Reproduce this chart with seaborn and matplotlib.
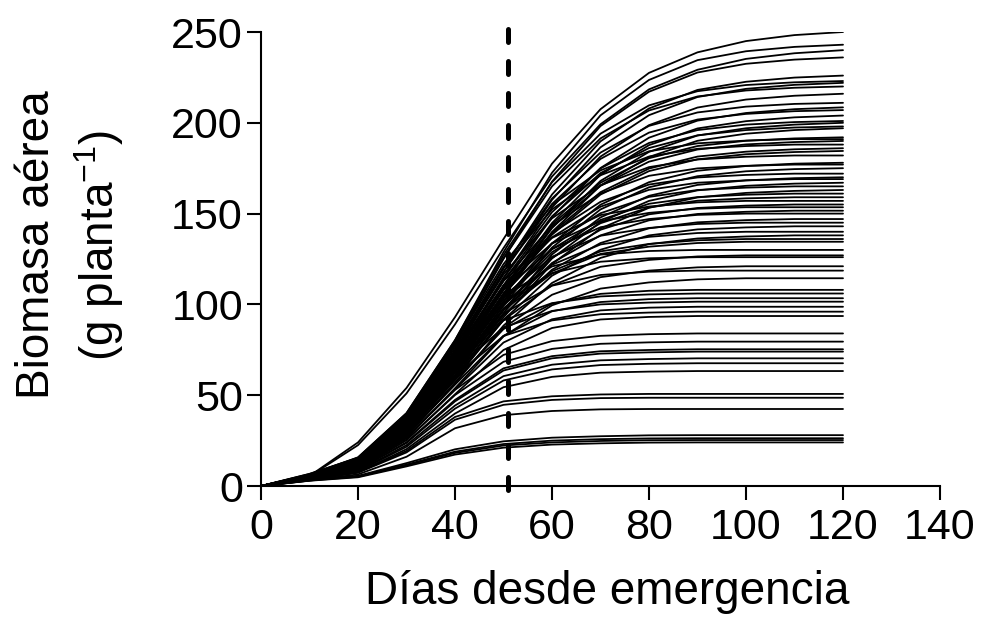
import matplotlib
matplotlib.use("Agg")
import matplotlib.pyplot as plt
import seaborn as sns
import pandas as pd

# ---------------- data ----------------
days = [0, 10, 20, 30, 40, 50, 60, 70, 80, 90, 100, 110, 120]
emergence_line_day = 51

biomass_d0 = [0, 0, 0, 0, 0, 0, 0, 0, 0, 0,
              0, 0, 0, 0, 0, 0, 0, 0, 0, 0,
              0, 0, 0, 0, 0, 0, 0, 0, 0, 0,
              0, 0, 0, 0, 0, 0, 0, 0, 0, 0,
              0, 0, 0, 0, 0, 0, 0, 0, 0, 0,
              0, 0, 0, 0, 0, 0, 0, 0, 0, 0,
              0, 0, 0, 0, 0, 0, 0, 0, 0, 0,
              0, 0, 0, 0]
biomass_d10 = [5.5, 6.1, 5.3, 5.9, 5.7, 6.7, 5.6, 6.6, 5.4, 6.3,
               5.2, 6.2, 5.1, 6.0, 5.0, 5.9, 4.9, 5.8, 5.7, 5.7,
               5.6, 5.6, 5.5, 5.5, 5.3, 5.3, 5.3, 5.2, 5.1, 5.1,
               5.0, 5.0, 4.9, 4.8, 4.8, 5.5, 4.7, 5.4, 4.5, 5.3,
               4.4, 5.1, 4.3, 4.9, 4.1, 4.8, 4.7, 5.2, 4.4, 5.0,
               4.2, 4.7, 4.0, 4.3, 5.3, 4.1, 5.1, 3.9, 4.8, 3.7,
               4.2, 4.0, 3.8, 3.7, 3.5, 3.4, 3.2, 3.5, 3.4, 3.0,
               3.4, 3.2, 3.0, 2.9]
biomass_d20 = [24.0, 15.8, 22.5, 15.3, 14.7, 15.6, 14.4, 15.4, 14.0, 14.8,
               13.6, 14.5, 13.3, 14.1, 13.0, 13.9, 12.8, 13.4, 15.3, 13.3,
               15.0, 13.0, 12.9, 14.6, 12.5, 14.2, 12.3, 13.8, 11.9, 13.5,
               11.7, 13.2, 11.4, 12.9, 12.7, 14.1, 12.4, 13.8, 12.1, 13.5,
               11.8, 13.1, 11.4, 12.6, 11.0, 12.2, 12.1, 13.0, 11.4, 12.6,
               10.9, 11.9, 10.3, 10.8, 12.7, 10.3, 12.2, 9.9, 11.5, 9.4,
               10.1, 9.5, 9.0, 8.9, 8.4, 8.1, 7.6, 7.6, 7.3, 6.4,
               5.6, 5.3, 5.1, 4.8]
biomass_d30 = [54.0, 40.1, 51.0, 38.9, 37.3, 40.1, 36.6, 39.6, 35.6, 38.0,
               34.4, 37.3, 33.7, 36.2, 33.0, 35.6, 32.5, 34.6, 38.2, 34.2,
               37.6, 33.5, 33.2, 36.4, 32.0, 35.4, 31.5, 34.4, 30.6, 33.8,
               30.1, 33.0, 29.3, 32.2, 31.8, 36.1, 31.0, 35.3, 30.3, 34.5,
               29.4, 33.4, 28.6, 32.2, 27.6, 31.3, 30.9, 35.1, 29.2, 34.0,
               27.8, 32.0, 26.3, 29.2, 33.9, 27.9, 32.5, 26.6, 30.7, 25.3,
               26.9, 25.4, 24.1, 23.7, 22.5, 21.6, 20.3, 19.3, 18.5, 16.1,
               12.6, 11.8, 11.4, 10.8]
biomass_d40 = [93.0, 80.2, 89.0, 77.9, 74.6, 80.3, 73.3, 79.2, 71.3, 76.0,
               68.8, 74.5, 67.3, 72.4, 66.0, 71.3, 65.0, 69.1, 78.3, 68.4,
               77.1, 67.0, 66.4, 74.6, 64.1, 72.6, 63.0, 70.5, 61.2, 69.3,
               60.1, 67.7, 58.7, 66.0, 65.2, 73.8, 63.6, 72.1, 62.2, 70.5,
               60.3, 68.2, 58.6, 65.8, 56.6, 63.9, 63.2, 70.2, 59.7, 68.0,
               56.9, 64.0, 53.8, 58.3, 66.8, 55.8, 63.9, 53.3, 60.5, 50.5,
               52.9, 50.1, 47.4, 46.6, 44.3, 42.6, 39.9, 38.0, 36.5, 31.8,
               20.2, 18.9, 18.2, 17.3]
biomass_d50 = [136.0, 128.8, 131.0, 125.1, 119.8, 127.1, 117.7, 125.4, 114.5, 120.3,
               110.5, 118.0, 108.1, 114.6, 106.0, 112.9, 104.4, 109.4, 122.2, 108.3,
               120.3, 106.0, 105.2, 116.5, 101.5, 113.3, 99.8, 110.1, 96.9, 108.2,
               95.2, 105.6, 92.9, 103.0, 101.8, 113.0, 99.2, 110.5, 97.0, 108.0,
               94.1, 104.4, 91.5, 100.8, 88.3, 97.9, 96.8, 104.0, 91.4, 100.8,
               87.1, 94.9, 82.4, 86.4, 91.2, 82.7, 87.3, 79.0, 82.6, 74.9,
               72.2, 68.4, 64.8, 63.6, 60.5, 58.1, 54.4, 46.6, 44.7, 39.0,
               24.6, 23.1, 22.3, 21.1]
biomass_d60 = [177.5, 172.5, 170.4, 167.6, 160.5, 167.3, 157.6, 165.0, 153.4, 158.3,
               148.0, 155.3, 144.8, 150.8, 142.0, 148.5, 139.9, 144.0, 154.7, 142.5,
               152.3, 139.5, 138.4, 147.4, 133.5, 143.4, 131.3, 139.3, 127.5, 136.9,
               125.3, 133.7, 122.3, 130.4, 128.8, 136.6, 125.6, 133.5, 122.8, 130.5,
               119.1, 126.2, 115.8, 121.8, 111.8, 118.3, 117.0, 120.9, 110.5, 117.2,
               105.3, 110.3, 99.5, 100.4, 100.7, 96.2, 96.4, 91.8, 91.2, 87.0,
               79.8, 75.5, 71.5, 70.3, 66.8, 64.2, 60.1, 49.4, 47.4, 41.3,
               26.6, 25.0, 24.0, 22.8]
biomass_d70 = [207.5, 204.1, 199.2, 198.2, 189.8, 194.0, 186.5, 191.4, 181.4, 183.6,
               175.1, 180.1, 171.4, 174.9, 168.0, 172.3, 165.5, 167.0, 173.8, 165.3,
               171.1, 161.8, 160.5, 165.6, 154.9, 161.1, 152.3, 156.5, 147.9, 153.8,
               145.3, 150.2, 141.8, 146.5, 144.7, 149.2, 141.1, 145.8, 138.0, 142.5,
               133.8, 137.8, 130.1, 133.0, 125.6, 129.2, 127.8, 127.4, 120.7, 123.5,
               115.0, 116.2, 108.7, 105.8, 104.4, 101.3, 100.0, 96.7, 94.6, 91.7,
               82.7, 78.3, 74.2, 72.9, 69.2, 66.6, 62.4, 50.4, 48.4, 42.2,
               27.4, 25.8, 24.8, 23.5]
biomass_d80 = [227.5, 223.6, 218.4, 217.1, 207.9, 209.6, 204.2, 206.8, 198.7, 198.3,
               191.8, 194.6, 187.7, 188.9, 184.0, 186.1, 181.2, 180.5, 184.3, 178.6,
               181.4, 174.8, 173.4, 175.6, 167.3, 170.8, 164.5, 166.0, 159.8, 163.1,
               157.0, 159.2, 153.2, 155.4, 153.4, 153.9, 149.6, 150.4, 146.3, 147.0,
               141.9, 142.1, 138.0, 137.2, 133.2, 133.3, 131.8, 129.4, 124.5, 125.4,
               118.6, 118.0, 112.1, 107.5, 105.5, 102.9, 101.0, 98.2, 95.5, 93.1,
               83.6, 79.1, 74.9, 73.6, 69.9, 67.3, 63.0, 50.7, 48.6, 42.4,
               27.9, 26.2, 25.2, 23.9]
biomass_d90 = [238.8, 234.5, 229.2, 227.7, 218.1, 217.4, 214.2, 214.5, 208.4, 205.7,
               201.2, 201.8, 196.9, 196.0, 193.0, 193.1, 190.1, 187.2, 188.7, 185.3,
               185.7, 181.4, 179.9, 179.8, 173.6, 174.9, 170.6, 169.9, 165.8, 167.0,
               162.8, 163.0, 158.9, 159.1, 157.1, 156.2, 153.1, 152.7, 149.8, 149.3,
               145.2, 144.3, 141.3, 139.3, 136.3, 135.3, 133.8, 130.0, 126.4, 126.0,
               120.4, 118.6, 113.8, 108.0, 106.0, 103.4, 101.5, 98.7, 96.0, 93.6,
               84.0, 79.5, 75.3, 74.0, 70.3, 67.6, 63.3, 50.7, 48.6, 42.4,
               28.0, 26.3, 25.3, 24.0]
biomass_d100 = [245.0, 239.4, 235.2, 232.5, 222.6, 220.8, 218.7, 217.8, 212.8, 208.9,
                205.4, 204.9, 200.9, 199.0, 197.0, 196.0, 194.0, 190.1, 190.2, 188.1,
                187.2, 184.1, 182.7, 181.3, 176.2, 176.3, 173.3, 171.3, 168.3, 168.3,
                165.3, 164.3, 161.4, 160.4, 158.4, 157.0, 154.4, 153.5, 151.0, 150.0,
                146.4, 145.0, 142.4, 140.0, 137.4, 136.0, 134.5, 130.0, 127.0, 126.0,
                121.0, 118.6, 114.4, 108.0, 106.0, 103.4, 101.5, 98.7, 96.0, 93.6,
                84.0, 79.5, 75.3, 74.0, 70.3, 67.6, 63.3, 50.7, 48.6, 42.4,
                28.0, 26.3, 25.3, 24.0]
biomass_d110 = [248.3, 241.8, 238.3, 234.8, 224.9, 222.3, 220.9, 219.3, 214.9, 210.4,
                207.5, 206.4, 203.0, 200.4, 199.0, 197.4, 196.0, 191.4, 191.0, 189.4,
                188.0, 185.4, 183.9, 182.0, 177.5, 177.0, 174.5, 172.0, 169.5, 169.0,
                166.5, 165.0, 162.5, 161.0, 159.0, 157.0, 155.0, 153.5, 151.6, 150.0,
                147.0, 145.0, 143.0, 140.0, 138.0, 136.0, 134.5, 130.0, 127.0, 126.0,
                121.0, 118.6, 114.4, 108.0, 106.0, 103.4, 101.5, 98.7, 96.0, 93.6,
                84.0, 79.5, 75.3, 74.0, 70.3, 67.6, 63.3, 50.7, 48.6, 42.4,
                28.0, 26.3, 25.3, 24.0]
biomass_d120 = [250, 243, 240, 236, 226, 223, 222, 220, 216, 211,
                208.5, 207, 204, 201, 200, 198, 197, 192, 191, 190,
                188, 186, 184.5, 182, 178, 177, 175, 172, 170, 169,
                167, 165, 163, 161, 159, 157, 155, 153.5, 151.6, 150,
                147, 145, 143, 140, 138, 136, 134.5, 130, 127, 126,
                121, 118.6, 114.4, 108, 106, 103.4, 101.5, 98.7, 96, 93.6,
                84, 79.5, 75.3, 74, 70.3, 67.6, 63.3, 50.7, 48.6, 42.4,
                28, 26.3, 25.3, 24]

x_ticks = [0, 20, 40, 60, 80, 100, 120, 140]
y_ticks = [0, 50, 100, 150, 200, 250]
x_label = "Días desde emergencia"
y_label = "Biomasa aérea\n(g planta$^{-1}$)"

# ---------------- long-form table ----------------
per_day = [biomass_d0, biomass_d10, biomass_d20, biomass_d30, biomass_d40,
           biomass_d50, biomass_d60, biomass_d70, biomass_d80, biomass_d90,
           biomass_d100, biomass_d110, biomass_d120]
rows = []
for d, values in zip(days, per_day):
    for i, v in enumerate(values):
        rows.append({"day": d, "biomass": v, "curve": i})
df = pd.DataFrame(rows)

# ---------------- style ----------------
sns.set_theme(style="ticks")
plt.rcParams["font.family"] = ["Liberation Sans", "DejaVu Sans"]
plt.rcParams["mathtext.default"] = "regular"
plt.rcParams["axes.linewidth"] = 1.5

fig = plt.figure(figsize=(9.85, 6.2), dpi=100)
ax = fig.add_axes([261 / 985, (620 - 486) / 620, 679 / 985, 454 / 620])

sns.lineplot(data=df, x="day", y="biomass", units="curve", estimator=None,
             color="black", linewidth=1.3, legend=False, ax=ax)

ax.plot([emergence_line_day, emergence_line_day], [251.4, -2.0],
        color="black", linewidth=3.6, linestyle=(0, (2.6, 3.8)),
        dash_capstyle="round", clip_on=False, zorder=5)

ax.set_xlim(0, 140)
ax.set_ylim(0, 250)
ax.set_xticks(x_ticks)
ax.set_yticks(y_ticks)
sns.despine(ax=ax)
for s in ("left", "bottom"):
    ax.spines[s].set_linewidth(1.5)
    ax.spines[s].set_color("black")

ax.tick_params(axis="both", direction="out", length=10, width=1.5,
               color="black", labelsize=31, labelcolor="black")
ax.tick_params(axis="x", pad=6)
ax.tick_params(axis="y", pad=3)

ax.set_xlabel(x_label, fontsize=33, color="black")
ax.set_ylabel(y_label, fontsize=33, color="black", linespacing=1.3)
ax.xaxis.set_label_coords(0.51, -0.186)
ax.yaxis.set_label_coords(-0.199, 0.531)

fig.savefig("out.png", dpi=100, facecolor="white")
